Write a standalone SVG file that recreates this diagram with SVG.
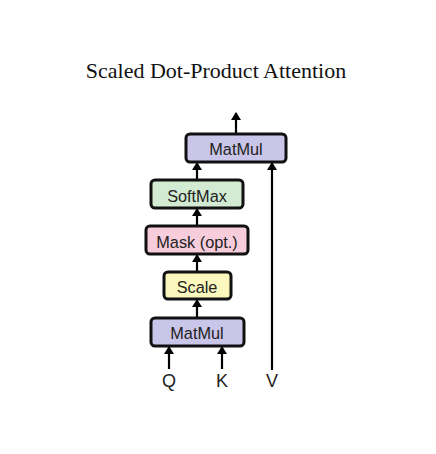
<svg xmlns="http://www.w3.org/2000/svg" width="436" height="454" viewBox="0 0 436 454">
<defs>
<style>
.box{stroke:#111;stroke-width:3}
.lbl{font-family:"Liberation Sans",Arial,sans-serif;font-size:16.3px;fill:#222;text-anchor:middle}
.io{font-family:"Liberation Sans",Arial,sans-serif;font-size:18px;fill:#222;text-anchor:middle}
.c{stroke:#000;stroke-width:2.2;fill:none}
.mm{fill:#cac6e9}
</style>
<marker id="a" viewBox="0 0 8 10" refX="7" refY="5" markerWidth="8" markerHeight="10" orient="auto" markerUnits="userSpaceOnUse">
<path d="M0,0 L8,5 L0,10 z" fill="#000"/>
</marker>
</defs>
<rect width="436" height="454" fill="#fff"/>
<text x="216" y="78" font-family="'Liberation Serif','Times New Roman',serif" font-size="22" fill="#111" text-anchor="middle">Scaled Dot-Product Attention</text>
<g id="connectors">
<path class="c" d="M236,134 V113" marker-end="url(#a)"/>
<path class="c" d="M197,180 V163" marker-end="url(#a)"/>
<path class="c" d="M197,226 V209" marker-end="url(#a)"/>
<path class="c" d="M197,272 V255" marker-end="url(#a)"/>
<path class="c" d="M197,318 V300" marker-end="url(#a)"/>
<path class="c" d="M169,369 V347" marker-end="url(#a)"/>
<path class="c" d="M222,369 V347" marker-end="url(#a)"/>
<path class="c" d="M272,370 V163" marker-end="url(#a)"/>
</g>
<g id="matmul-top">
<rect class="box mm" x="186" y="134" width="100" height="28" rx="4"/>
<text class="lbl" x="236" y="155">MatMul</text>
</g>
<g id="softmax">
<rect class="box" x="151" y="180" width="92" height="28" rx="4" fill="#d3ebd3"/>
<text class="lbl" x="197" y="201.5">SoftMax</text>
</g>
<g id="mask">
<rect class="box" x="146" y="226" width="102" height="28" rx="4" fill="#f7ccdb"/>
<text class="lbl" x="197" y="247.5">Mask (opt.)</text>
</g>
<g id="scale">
<rect class="box" x="164" y="272" width="67" height="27" rx="4" fill="#fbf7bd"/>
<text class="lbl" x="197" y="293">Scale</text>
</g>
<g id="matmul-bottom">
<rect class="box mm" x="151" y="318" width="93" height="28" rx="4"/>
<text class="lbl" x="197" y="339">MatMul</text>
</g>
<g id="inputs">
<text class="io" x="169" y="387">Q</text>
<text class="io" x="222" y="387">K</text>
<text class="io" x="272" y="387">V</text>
</g>
</svg>
